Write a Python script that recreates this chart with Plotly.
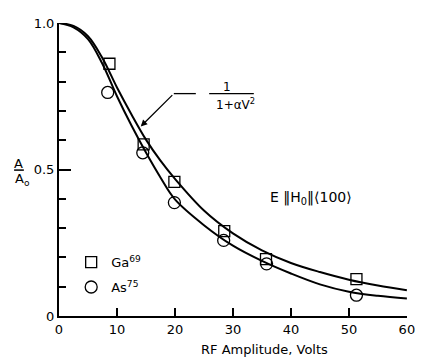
import plotly.graph_objects as go

# Measured points
ga_v = [8.7, 14.6, 19.9, 28.5, 35.7, 51.3]
ga_a = [0.861, 0.586, 0.458, 0.290, 0.194, 0.126]
as_v = [8.4, 14.45, 19.9, 28.4, 35.8, 51.3]
as_a = [0.763, 0.557, 0.387, 0.258, 0.178, 0.071]

# Fitted curves 1/(1+aV^2)
curve_v = [0, 2.5, 5, 7.5, 10, 12.5, 15, 17.5, 20, 25, 30, 35, 40, 45, 50, 55, 60]
ga_fit = [1.0, 0.99, 0.955, 0.88, 0.78, 0.688, 0.602, 0.53, 0.468, 0.36, 0.282, 0.224, 0.181, 0.150, 0.124, 0.104, 0.088]
as_fit = [1.0, 0.985, 0.945, 0.86, 0.75, 0.65, 0.558, 0.473, 0.398, 0.31, 0.24, 0.188, 0.145, 0.108, 0.083, 0.069, 0.060]

x_ticks = [0, 10, 20, 30, 40, 50, 60]
y_ticks = [0, 0.5, 1.0]
y_ticktext = ["0", "0.5", "1.0"]

FONT = "DejaVu Sans"
fig = go.Figure()
fig.add_trace(go.Scatter(x=curve_v, y=ga_fit, mode="lines", line=dict(color="black", width=2, shape="spline"),
                         showlegend=False, hoverinfo="skip"))
fig.add_trace(go.Scatter(x=curve_v, y=as_fit, mode="lines", line=dict(color="black", width=2, shape="spline"),
                         showlegend=False, hoverinfo="skip"))
fig.add_trace(go.Scatter(x=ga_v, y=ga_a, mode="markers", name="Ga<sup>69</sup>", legendgroup="g1",
                         marker=dict(symbol="square-open", size=11, color="black", line=dict(width=1.3))))
fig.add_trace(go.Scatter(x=as_v, y=as_a, mode="markers", name="As<sup>75</sup>", legendgroup="g2",
                         marker=dict(symbol="circle-open", size=12, color="black", line=dict(width=1.3))))

# the page body has an 8px margin, so the figure is 8px smaller and margins compensate
fig.update_layout(
    width=415, height=350,
    margin=dict(l=51, r=8, t=13, b=42),
    paper_bgcolor="white", plot_bgcolor="white",
    font=dict(family=FONT, size=13, color="black"),
    showlegend=True,
    legend=dict(x=0.035, y=0.235, xanchor="left", yanchor="top", bgcolor="rgba(0,0,0,0)",
                font=dict(size=13), tracegroupgap=5),
    xaxis=dict(range=[0, 60.02], tickvals=x_ticks, ticks="inside", ticklen=8, tickwidth=1.5,
               showline=True, linecolor="black", linewidth=2, showgrid=False, zeroline=False,
               tickcolor="black", ticklabeloverflow="allow"),
    yaxis=dict(range=[0, 1.0], tickvals=y_ticks, ticktext=y_ticktext, ticks="inside", ticklen=12, tickwidth=1.5,
               showline=True, linecolor="black", linewidth=2, showgrid=False, zeroline=False,
               tickcolor="black",
               minor=dict(dtick=0.1, ticks="inside", ticklen=7, tickwidth=1.5, tickcolor="black")),
)

ann = []
# x title
ann.append(dict(text="RF Amplitude, Volts", xref="paper", yref="paper", x=0.59, y=-0.115,
                xanchor="center", yanchor="middle", showarrow=False, font=dict(size=13)))
# y title fraction
ann.append(dict(text="A", xref="paper", yref="paper", x=-0.115, y=0.52, xanchor="center", yanchor="middle",
                showarrow=False, font=dict(size=13)))
ann.append(dict(text="A<sub>o</sub>", xref="paper", yref="paper", x=-0.105, y=0.465, xanchor="center",
                yanchor="middle", showarrow=False, font=dict(size=13)))
# fit formula
ann.append(dict(text="1", x=29.0, y=0.783, xanchor="center", yanchor="middle", showarrow=False, font=dict(size=12)))
ann.append(dict(text="1+αV<sup>2</sup>", x=30.4, y=0.722, xanchor="center", yanchor="middle", showarrow=False,
                font=dict(size=12)))
# pointer arrow
ann.append(dict(text="", x=14.1, y=0.647, ax=19.8, ay=0.759, axref="x", ayref="y", showarrow=True,
                arrowhead=2, arrowsize=1, arrowwidth=1.3, arrowcolor="black"))
# orientation label
ann.append(dict(text="E ‖H<sub>0</sub>‖⟨100⟩", x=43.4, y=0.403, xanchor="center", yanchor="middle",
                showarrow=False, font=dict(size=14)))
fig.update_layout(annotations=ann)

fig.add_shape(type="line", xref="paper", yref="paper", x0=-0.129, x1=-0.101, y0=0.498, y1=0.498,
              line=dict(color="black", width=1.5))
fig.add_shape(type="line", x0=25.9, x1=33.6, y0=0.759, y1=0.759, line=dict(color="black", width=1.3))
fig.add_shape(type="line", x0=19.8, x1=23.6, y0=0.759, y1=0.759, line=dict(color="black", width=1.3))

fig.write_html("out.html")
